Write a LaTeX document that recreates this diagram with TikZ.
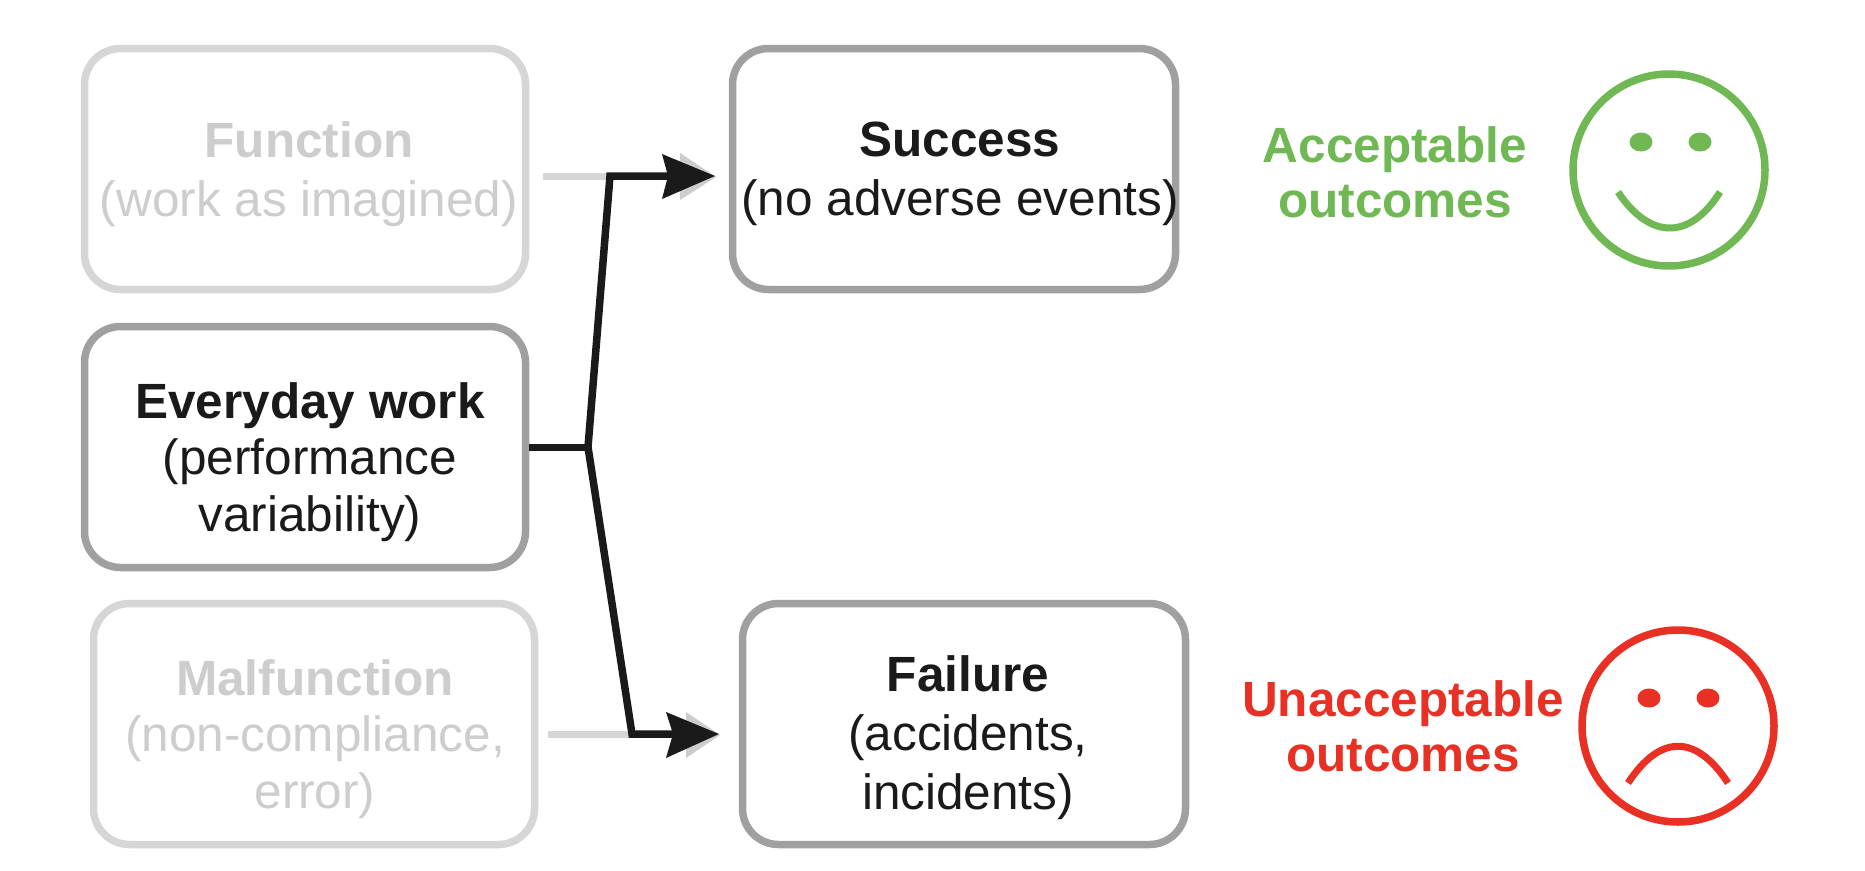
\documentclass[tikz,border=0pt]{standalone}
\usepackage{fontspec}
\setmainfont{Liberation Sans}
\usetikzlibrary{shapes.geometric}
\begin{document}
\begin{tikzpicture}[x=1pt,y=-1pt,
  box/.style={draw=#1,line width=7.5pt,rounded corners=36pt,inner sep=0pt,fill=white},
  lbl/.style={align=center,font=\fontsize{49.5}{59}\selectfont,text=#1},
  lbltight/.style={align=center,font=\fontsize{49.5}{56.5}\selectfont,text=#1},
  outc/.style={align=center,font=\fontsize{49.5}{55}\selectfont\bfseries,text=#1},
  face/.style={draw=#1,line width=7.5pt,circle,minimum size=192pt,inner sep=0pt},
  feat/.style={line width=7pt,draw=#1},
  eye/.style={fill=#1,ellipse,minimum width=23pt,minimum height=19pt,inner sep=0pt}]
\definecolor{fadeB}{RGB}{214,214,214}
\definecolor{fadeT}{RGB}{205,205,205}
\definecolor{midB}{RGB}{160,160,160}
\definecolor{inkK}{RGB}{26,26,26}
\definecolor{okG}{RGB}{112,184,84}
\definecolor{badR}{RGB}{232,48,36}
\useasboundingbox (0,0) rectangle (1865,870);
\fill[white] (0,0) rectangle (1865,870);
\node[box=fadeB,minimum width=441pt,minimum height=241pt] (fn) at (305,169) {};
\node[box=midB,minimum width=441pt,minimum height=241pt] (ew) at (305,447) {};
\node[box=fadeB,minimum width=441pt,minimum height=241pt] (mf) at (314,724) {};
\node[box=midB,minimum width=443pt,minimum height=241pt] (su) at (954,169) {};
\node[box=midB,minimum width=443pt,minimum height=241pt] (fa) at (964,724) {};
\node[lbl=fadeT] (fnt) at (309,174) {\textbf{Function}\\(work as imagined)};
\node[lbltight=inkK] (ewt) at (310,462) {\textbf{Everyday work}\\(performance\\variability)};
\node[lbltight=fadeT] (mft) at (315,739) {\textbf{Malfunction}\\(non-compliance,\\error)};
\node[lbl=inkK] (sut) at (960,174) {\textbf{Success}\\(no adverse events)};
\node[lbl=inkK] (fat) at (968,738) {\textbf{Failure}\\(accidents,\\incidents)};
\node[outc=okG] (ac) at (1395,172) {Acceptable\\outcomes};
\node[outc=badR] (un) at (1403,726) {Unacceptable\\outcomes};
\node[face=okG] (h) at (1669,170) {};
\node[face=badR] (s) at (1678,726) {};
\node[eye=okG] (he1) at (1641,142) {};
\node[eye=okG] (he2) at (1700,142) {};
\node[eye=badR] (se1) at (1649,698) {};
\node[eye=badR] (se2) at (1708,698) {};
\draw[feat=okG] (1618,192) .. controls (1650,240) and (1690,240) .. (1720,192);
\draw[feat=badR] (1628,783) .. controls (1660,734) and (1696,734) .. (1728,783);
\coordinate (j) at (588,447);
\coordinate (up) at (610,176);
\coordinate (dn) at (632,734);
\coordinate (tipU) at (715,176);
\coordinate (tipD) at (719,734);
\coordinate (sf) at (543,176);
\coordinate (sm) at (548,734);
\draw[fadeB,line width=7pt] (sf) -- (up);
\draw[fadeB,line width=7pt] (sm) -- (dn);
\fill[fadeT] (680,153) -- (716,177) -- (680,200) -- cycle;
\fill[fadeT] (686,712) -- (720,735) -- (686,758) -- cycle;
\draw[inkK,line width=7.5pt,line join=miter] (670,176) -- (up) -- (j) -- (dn) -- (675,734);
\draw[inkK,line width=7pt] (ew.east) -- (j);
\fill[inkK] (662,154) -- (tipU) -- (662,199) -- (668,176) -- cycle;
\fill[inkK] (666,712) -- (tipD) -- (666,758) -- (673,734) -- cycle;
\end{tikzpicture}
\end{document}
